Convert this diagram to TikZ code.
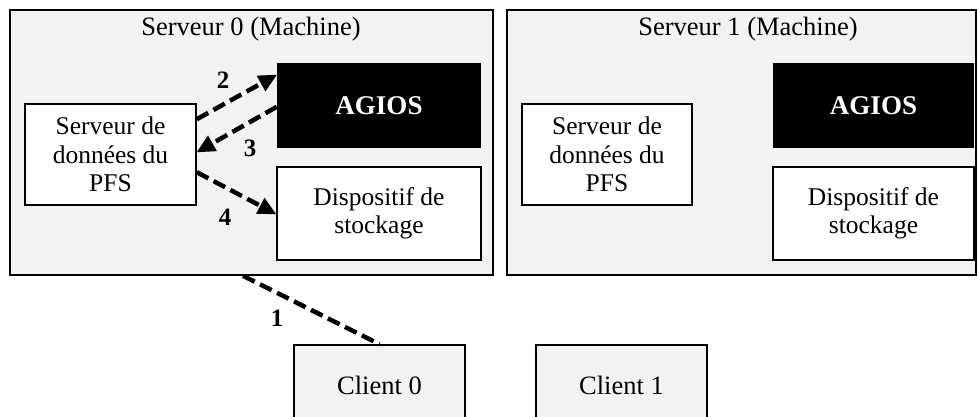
\documentclass[tikz,border=0pt]{standalone}
\usepackage{fontspec}
\setmainfont{Liberation Serif}
\usepackage{tikz}
\usetikzlibrary{arrows.meta}
\definecolor{fond}{HTML}{F2F2F2}
\tikzstyle{machine} = [draw, line width=1.6pt, fill=fond, inner sep=0pt]
\tikzstyle{boite} = [draw, line width=1.6pt, fill=white, align=center, inner sep=0pt, font=\fontsize{25.5}{28.5}\selectfont]
\tikzstyle{agios} = [fill=black, text=white, inner sep=0pt, font=\fontsize{27}{29}\selectfont\bfseries]
\tikzstyle{client} = [draw, line width=1.6pt, fill=fond, inner sep=0pt, minimum width=171pt, minimum height=80pt, font=\fontsize{26.5}{29}\selectfont]
\tikzstyle{titre} = [font=\fontsize{26.5}{29}\selectfont]
\tikzstyle{numero} = [font=\fontsize{25}{28}\selectfont\bfseries]
\tikzstyle{echange} = [line width=4.5pt, dash pattern=on 13pt off 6pt, -{Triangle[length=18pt,width=18pt,line width=0pt]}]

\begin{document}
\begin{tikzpicture}[x=1pt, y=1pt]
    \useasboundingbox (0,0) rectangle (977,-417);
    \clip (0,0) rectangle (977,-417);

    % Serveur 0
    \node[machine, minimum width=483pt, minimum height=265pt] (srv0) at (251.5,-142.5) {};
    \node[titre] (titre0) at (251,-29) {Serveur 0 (Machine)};
    \node[boite, minimum width=171pt, minimum height=101pt] (pfs0) at (110.5,-154.5) {Serveur de\\donn\'ees du\\PFS};
    \node[agios, minimum width=204pt, minimum height=85pt] (ag0) at (379,-105.5) {AGIOS};
    \node[boite, minimum width=204pt, minimum height=93pt] (disp0) at (379,-213.5) {Dispositif de\\stockage};

    % Serveur 1
    \node[machine, minimum width=469pt, minimum height=265pt] (srv1) at (741.5,-142.5) {};
    \node[titre] (titre1) at (748,-29) {Serveur 1 (Machine)};
    \node[boite, minimum width=170pt, minimum height=101pt] (pfs1) at (607,-154.5) {Serveur de\\donn\'ees du\\PFS};
    \node[agios, minimum width=201pt, minimum height=85pt] (ag1) at (873.5,-105.5) {AGIOS};
    \node[boite, minimum width=201pt, minimum height=93pt] (disp1) at (873.5,-213.5) {Dispositif de\\stockage};

    % Clients
    \node[client] (cli0) at (379.5,-385) {Client 0};
    \node[client] (cli1) at (621.5,-385) {Client 1};

    % Echanges
    \draw[echange] ([yshift=-16pt]pfs0.north east) -- ([yshift=-12pt]ag0.north west);
    \draw[echange] ([yshift=-44pt]ag0.north west) -- ([yshift=-49pt]pfs0.north east);
    \draw[echange] ([yshift=-69pt]pfs0.north east) -- ([yshift=-48pt]disp0.north west);
    \draw[echange, -] ([xshift=-8.5pt]srv0.south) -- (cli0.north);

    % Numeros
    \node[numero] (n2) at (223,-80) {2};
    \node[numero] (n3) at (250,-148) {3};
    \node[numero] (n4) at (225,-217) {4};
    \node[numero] (n1) at (277,-318) {1};
\end{tikzpicture}
\end{document}
